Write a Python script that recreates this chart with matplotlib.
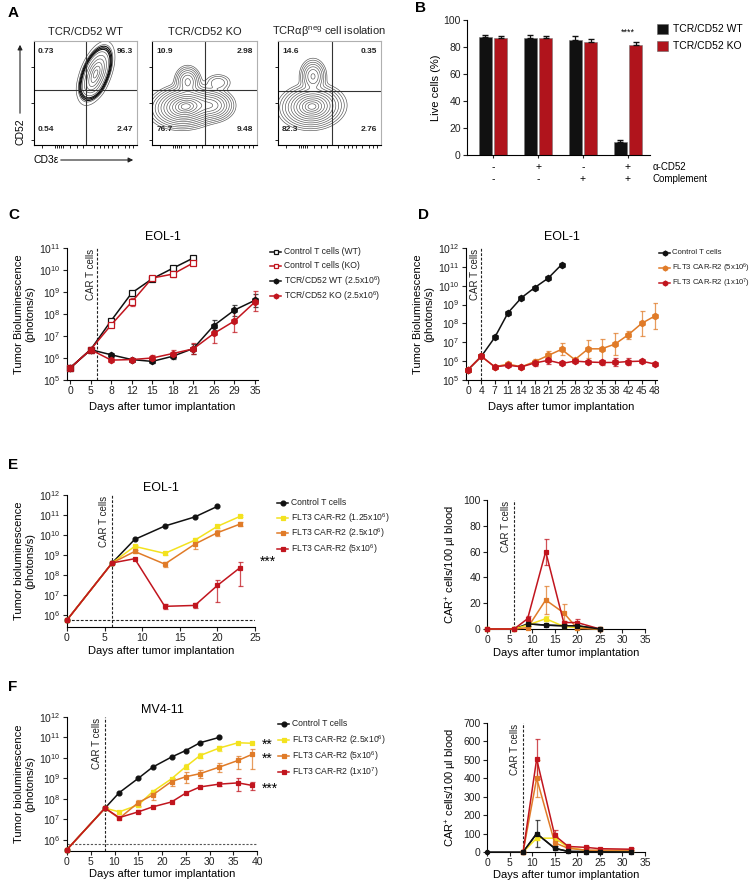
import numpy as np
import matplotlib.pyplot as plt
from matplotlib.lines import Line2D

plt.rcParams['font.family'] = ['Liberation Sans', 'DejaVu Sans']
plt.rcParams['font.size'] = 7.5
plt.rcParams['mathtext.default'] = 'regular'
plt.rcParams['axes.linewidth'] = 0.8
plt.rcParams['xtick.major.width'] = 0.8
plt.rcParams['ytick.major.width'] = 0.8
plt.rcParams['xtick.major.size'] = 3
plt.rcParams['ytick.major.size'] = 3
plt.rcParams['xtick.major.pad'] = 1.5
plt.rcParams['ytick.major.pad'] = 1.5

BLACK = '#111111'
RED = '#C1151E'
ORANGE = '#E07B28'
YELLOW = '#F3E21F'
nan = np.nan

# ---------------- data ----------------
# A: flow plots
flow_titles = ['TCR/CD52 WT', 'TCR/CD52 KO', 'TCRαβ$^{neg}$ cell isolation']
quad_pct = [['0.73', '96.3', '0.54', '2.47'],
            ['10.9', '2.98', '76.7', '9.48'],
            ['14.6', '0.35', '82.3', '2.76']]
gate_x = [0.50, 0.50, 0.52]
gate_y = [0.53, 0.53, 0.52]
# populations: cx, cy, sx, sy, rho, weight
pops_wt = [(0.60, 0.69, 0.06, 0.10, 0.5, 1.0), (0.56, 0.57, 0.05, 0.05, 0.2, 0.15)]
pops_ko = [(0.32, 0.37, 0.12, 0.075, 0.1, 1.0), (0.58, 0.38, 0.08, 0.06, 0.0, 0.35),
           (0.34, 0.61, 0.05, 0.06, 0.0, 0.25), (0.63, 0.60, 0.06, 0.04, 0.0, 0.05)]
pops_iso = [(0.33, 0.37, 0.11, 0.075, 0.05, 1.0), (0.34, 0.66, 0.05, 0.065, 0.0, 0.3)]

# B: complement assay
anti_cd52 = ['-', '+', '-', '+']
complement = ['-', '-', '+', '+']
live_wt = [87.5, 87, 85, 9.5]
live_wt_err = [1.5, 2, 3, 1.5]
live_ko = [87, 86.5, 84, 81.5]
live_ko_err = [1.5, 1.5, 2, 2]

# C: EOL-1, TCR/CD52 KO
c_days = [0, 5, 8, 12, 15, 18, 21, 26, 29, 35]
c_ctrl_wt = [3.5e5, 2.4e6, 5e7, 9e8, 4e9, 1.2e10, 3.5e10]
c_ctrl_ko = [3.5e5, 2.4e6, 3.2e7, 3.5e8, 4.3e9, 6.5e9, 2.1e10]
c_ctrl_ko_lo = [nan, nan, nan, 2.2e8, nan, 5e9, nan]
c_ctrl_ko_hi = [nan, nan, nan, 5.5e8, nan, 8e9, nan]
c_car_wt = [3.5e5, 2.4e6, 1.4e6, 8.5e5, 7e5, 1.2e6, 2.7e6, 3e7, 1.5e8, 4.2e8]
c_car_wt_lo = [nan, nan, nan, 7e5, 5.8e5, 9e5, 1.6e6, 1.8e7, 8e7, 2e8]
c_car_wt_hi = [nan, nan, nan, 1e6, 8.5e5, 1.6e6, 4.5e6, 5.5e7, 2.7e8, 8e8]
c_car_ko = [3.5e5, 2.4e6, 8e5, 8.5e5, 1e6, 1.6e6, 2.6e6, 1.3e7, 4.8e7, 3.5e8]
c_car_ko_lo = [nan, nan, nan, nan, 8e5, 1.1e6, 1.6e6, 5e6, 1.5e7, 1.3e8]
c_car_ko_hi = [nan, nan, nan, nan, 1.3e6, 2.4e6, 4.8e6, 3.5e7, 1.5e8, 1.1e9]

# D: EOL-1, FLT3 CAR-R2
d_days = [0, 4, 7, 11, 14, 18, 21, 25, 28, 32, 35, 38, 42, 45, 48]
d_ctrl = [3.5e5, 1.8e6, 1.8e7, 3.7e8, 2.3e9, 8e9, 2.5e10, 1.3e11]
d_mid = [3.5e5, 1.8e6, 5e5, 7e5, 5e5, 9.5e5, 2e6, 4.2e6, 1.2e6, 4.5e6, 4.5e6, 8e6, 2.5e7, 1e8, 2.5e8]
d_mid_lo = [nan, nan, nan, 5.5e5, nan, 7e5, 1.2e6, 2e6, nan, 1.5e6, 1e6, 2e6, 1.5e7, 2.2e7, 5e7]
d_mid_hi = [nan, nan, nan, 8.5e5, nan, 1.3e6, 3.5e6, 9e6, nan, 1.3e7, 1.5e7, 3.2e7, 4e7, 4.8e8, 1.2e9]
d_high = [3.5e5, 1.8e6, 5e5, 6e5, 5e5, 8e5, 1.1e6, 7.5e5, 1e6, 9e5, 8.5e5, 8.5e5, 9.5e5, 1e6, 7e5]
d_high_lo = [nan, nan, nan, nan, nan, 5.5e5, 7e5, nan, nan, nan, 6e5, 5.5e5, 6e5, 8e5, nan]
d_high_hi = [nan, nan, nan, nan, nan, 1.2e6, 1.6e6, nan, nan, nan, 1.2e6, 1.4e6, 1.5e6, 1.2e6, nan]

# E: EOL-1 dose titration
e_days_ctrl = [0, 6, 9, 13, 17, 20]
e_ctrl = [5.6e5, 4e8, 6e9, 2.8e10, 8e10, 2.7e11]
e_days = [0, 6, 9, 13, 17, 20, 23]
e_low = [5.6e5, 4e8, 2.7e9, 1.2e9, 5.5e9, 2.7e10, 8.5e10]
e_low_lo = [nan, nan, 2.2e9, 1e9, 4.5e9, 2.3e10, 7.5e10]
e_low_hi = [nan, nan, 3.2e9, 1.4e9, 6.8e9, 3.1e10, 9.5e10]
e_mid = [5.6e5, 4e8, 1.5e9, 3.5e8, 3.5e9, 1.3e10, 3.5e10]
e_mid_lo = [nan, nan, 1.2e9, 2.6e8, 2e9, 9e9, 2.7e10]
e_mid_hi = [nan, nan, 1.8e9, 4.5e8, 5e9, 1.8e10, 4.5e10]
e_high = [5.6e5, 4e8, 6.5e8, 2.7e6, 3e6, 3e7, 2.3e8]
e_high_lo = [nan, nan, nan, 2e6, 2.2e6, 4.5e6, 2.8e7]
e_high_hi = [nan, nan, nan, 3.4e6, 4.2e6, 5.5e7, 4.5e8]
e_blood_days = [0, 6, 9, 13, 17, 20, 25]
e_blood_ctrl = [0, 0, 4, 3, 2.5, 2.5, 0]
e_blood_ctrl_err = [nan, nan, 2, 1, nan, nan, nan]
e_blood_low = [0, 0, 3, 8, 2, 1, 0]
e_blood_low_err = [nan, nan, 1, 2, 1, nan, nan]
e_blood_mid = [0, 0, 1, 22.5, 12.5, 0.5, 0]
e_blood_mid_err = [nan, nan, 1, 10.5, 7, nan, nan]
e_blood_high = [0, 0, 8, 60, 5, 5, 0]
e_blood_high_err = [nan, nan, 2, 10, 1.5, 3, nan]

# F: MV4-11
f_days_ctrl = [0, 8, 11, 15, 18, 22, 25, 28, 32]
f_ctrl = [3.3e5, 3.5e7, 2e8, 1e9, 3.5e9, 1.1e10, 2.3e10, 5.5e10, 1e11]
f_days = [0, 8, 11, 15, 18, 22, 25, 28, 32, 36, 39]
f_low = [3.3e5, 3.5e7, 2.3e7, 5e7, 2.2e8, 9.5e8, 3.7e9, 1.3e10, 3e10, 5.5e10, 5.2e10]
f_low_lo = [nan, nan, nan, 4e7, 1.8e8, 8e8, 2.8e9, 1e10, 2.3e10, nan, nan]
f_low_hi = [nan, nan, nan, 6e7, 2.7e8, 1.1e9, 4.8e9, 1.7e10, 3.8e10, nan, nan]
f_mid = [3.3e5, 3.5e7, 1.1e7, 6.5e7, 1.5e8, 7e8, 1.2e9, 1.7e9, 3.5e9, 7.5e9, 1.5e10]
f_mid_lo = [nan, nan, nan, 4.5e7, 9e7, 4e8, 6e8, 1e9, 2e9, 3e9, 3e9]
f_mid_hi = [nan, nan, nan, 9e7, 2.5e8, 1.1e9, 2e9, 2.5e9, 5.5e9, 1.3e10, 2.8e10]
f_high = [3.3e5, 3.5e7, 1.2e7, 2.3e7, 4e7, 7e7, 1.9e8, 3.8e8, 5.2e8, 6e8, 4.5e8]
f_high_lo = [nan, nan, nan, 2e7, nan, nan, nan, nan, 4e8, 2.5e8, 2.8e8]
f_high_hi = [nan, nan, nan, 2.7e7, nan, nan, nan, nan, 6.5e8, 1e9, 6.5e8]
f_blood_days_ctrl = [0, 8, 11, 15, 18, 22, 25, 32]
f_blood_ctrl = [0, 0, 100, 20, 3, 2, 1, 0]
f_blood_ctrl_err = [nan, nan, 72, 10, nan, nan, nan, nan]
f_blood_days = [8, 11, 15, 18, 22, 25, 32]
f_blood_low = [0, 75, 75, 25, 8, 5, 8]
f_blood_low_err = [nan, 10, 10, 5, nan, nan, nan]
f_blood_mid = [0, 400, 50, 20, 10, 10, 10]
f_blood_mid_err = [nan, 100, 30, 5, nan, nan, nan]
f_blood_high = [0, 505, 90, 30, 25, 18, 15]
f_blood_high_err = [nan, 110, 30, 5, 5, nan, 5]

# ---------------- helpers ----------------
W, H = 755, 881
fig = plt.figure(figsize=(W / 100, H / 100), dpi=100)


def box(l, t, r, b):
    return [l / W, 1 - b / H, (r - l) / W, (b - t) / H]


def ftext(x, y, s, **kw):
    fig.text(x / W, 1 - y / H, s, **kw)


def clean(ax):
    ax.spines['top'].set_visible(False)
    ax.spines['right'].set_visible(False)
    ax.tick_params(direction='out', labelsize=7.5, colors='#222222')


def log_axis(ax, lo_exp, hi_exp, ylim):
    ax.set_yscale('log')
    ax.set_ylim(*ylim)
    ticks = [10.0 ** k for k in range(lo_exp, hi_exp + 1)]
    ax.set_yticks(ticks)
    ax.set_yticklabels(['$10^{%d}$' % k for k in range(lo_exp, hi_exp + 1)])
    ax.yaxis.set_minor_locator(plt.NullLocator())


def series(ax, x, y, color, marker, lo=None, hi=None, err=None, mfc=None, ms=3.5):
    x = np.asarray(x, float)
    y = np.asarray(y, float)
    ax.plot(x, y, color=color, marker=marker, ms=ms, mfc=mfc or color, mec=color,
            lw=1.1, mew=0.9, clip_on=False, zorder=3)
    if lo is not None:
        yerr = [y - np.asarray(lo, float), np.asarray(hi, float) - y]
    elif err is not None:
        yerr = np.asarray(err, float)
    else:
        return
    ax.errorbar(x, y, yerr=yerr, fmt='none', ecolor=color, elinewidth=0.9,
                capsize=1.8, capthick=0.9, alpha=0.75, zorder=2)


def legend_rows(x, ys, entries, fs=6.2, gap=14):
    for y, (label, color, marker, mfc) in zip(ys, entries):
        yy = 1 - y / H
        fig.add_artist(Line2D([x / W, (x + 5.5) / W, (x + 11) / W], [yy] * 3,
                              transform=fig.transFigure, color=color, lw=1.1,
                              marker=marker, markevery=[1], ms=3.5,
                              mfc=mfc or color, mec=color, mew=0.9))
        ftext(x + gap, y, label, va='center', fontsize=fs, color='#222222')


def car_label(ax, xline, frac_top=0.99):
    ax.text(xline, frac_top, 'CAR T cells', rotation=90, ha='right', va='top',
            fontsize=7, color='#222222',
            transform=ax.get_xaxis_transform())


dash = dict(color='#222222', lw=0.8, ls=(0, (2.5, 1.5)))

# ---------------- A ----------------
gx, gy = np.meshgrid(np.linspace(0, 1, 240), np.linspace(0, 1, 240))


def density(pops):
    z = np.zeros_like(gx)
    for cx, cy, sx, sy, rho, w in pops:
        dx = (gx - cx) / sx
        dy = (gy - cy) / sy
        z += w * np.exp(-(dx * dx - 2 * rho * dx * dy + dy * dy) / (2 * (1 - rho ** 2)))
    return z


flow_boxes = [(34, 41, 137, 145), (152, 41, 257, 145), (278, 41, 381, 145)]
flow_pops = [pops_wt, pops_ko, pops_iso]
flow_nlev = [9, 13, 12]
for i in range(3):
    ax = fig.add_axes(box(*flow_boxes[i]))
    z = density(flow_pops[i])
    radii = np.linspace(0.35, 3.1, flow_nlev[i])
    levels = np.sort(z.max() * np.exp(-radii ** 2 / 2))
    ax.contour(gx, gy, z, levels=levels, colors='#505050', linewidths=0.45)
    if i == 0:
        rim = np.sort(z.max() * np.exp(-np.array([2.3, 2.45, 2.6]) ** 2 / 2))
        ax.contour(gx, gy, z, levels=rim, colors='#111111', linewidths=0.8)
    ax.axvline(gate_x[i], color='#333333', lw=0.8)
    ax.axhline(gate_y[i], color='#333333', lw=0.8)
    ax.set_xlim(0, 1)
    ax.set_ylim(0, 1)
    for s in ['top', 'right']:
        ax.spines[s].set_color('#b0b0b0')
    ax.set_xticks([0.08, 0.2, 0.22, 0.24, 0.26, 0.28, 0.35, 0.42, 0.48, 0.58, 0.64,
                   0.68, 0.72, 0.76, 0.82, 0.88, 0.92, 0.96])
    ax.set_yticks([0.05, 0.4, 0.75])
    ax.tick_params(length=2, width=0.6, labelbottom=False, labelleft=False)
    tl, tr, bl, br = quad_pct[i]
    kw = dict(fontsize=6, fontweight='bold', transform=ax.transAxes, color='#222222')
    ax.text(0.04, 0.93, tl, ha='left', va='top', **kw)
    ax.text(0.96, 0.93, tr, ha='right', va='top', **kw)
    ax.text(0.04, 0.12, bl, ha='left', va='bottom', **kw)
    ax.text(0.96, 0.12, br, ha='right', va='bottom', **kw)
    ax.set_title(flow_titles[i], fontsize=8, pad=4, color='#222222')

ftext(20, 132, 'CD52', rotation=90, ha='center', va='center', fontsize=7.5)
fig.add_artist(plt.Annotation('', xy=(20 / W, 1 - 42 / H), xytext=(20 / W, 1 - 116 / H),
                              xycoords='figure fraction',
                              arrowprops=dict(arrowstyle='-|>', lw=0.8, color='#222222',
                                              mutation_scale=7)))
ftext(34, 160, 'CD3ε', ha='left', va='center', fontsize=7.5)
fig.add_artist(plt.Annotation('', xy=(136 / W, 1 - 160 / H), xytext=(58 / W, 1 - 160 / H),
                              xycoords='figure fraction',
                              arrowprops=dict(arrowstyle='-|>', lw=0.8, color='#222222',
                                              mutation_scale=7)))

# ---------------- B ----------------
ax = fig.add_axes(box(467, 20, 650, 155))
clean(ax)
xb = np.arange(len(live_wt))
ax.bar(xb - 0.175, live_wt, 0.29, color=BLACK, edgecolor='#777777', lw=0.4)
ax.bar(xb + 0.175, live_ko, 0.29, color='#B0141C', edgecolor='#777777', lw=0.4)
ax.errorbar(xb - 0.175, live_wt, yerr=[np.zeros(4), live_wt_err], fmt='none',
            ecolor=BLACK, elinewidth=0.9, capsize=2.5)
ax.errorbar(xb + 0.175, live_ko, yerr=[np.zeros(4), live_ko_err], fmt='none',
            ecolor=BLACK, elinewidth=0.9, capsize=2.5)
ax.set_xlim(-0.58, 3.49)
ax.set_ylim(0, 100)
ax.set_yticks(range(0, 101, 20))
ax.set_xticks(xb)
ax.tick_params(axis='x', labelbottom=False, length=2)
ax.set_ylabel('Live cells (%)', fontsize=8, labelpad=2)
ax.text(3, 91, '****', ha='center', va='center', fontsize=6.5)
for i in range(4):
    ax.text(i, -9, anti_cd52[i], ha='center', va='center', fontsize=7.5, clip_on=False)
    ax.text(i, -18, complement[i], ha='center', va='center', fontsize=7.5, clip_on=False)
ax.text(3.55, -9, 'α-CD52', ha='left', va='center', fontsize=7, clip_on=False)
ax.text(3.55, -18, 'Complement', ha='left', va='center', fontsize=7, clip_on=False)
for y, lab, col in [(29, 'TCR/CD52 WT', BLACK), (46, 'TCR/CD52 KO', '#B0141C')]:
    fig.add_artist(plt.Rectangle((657 / W, 1 - (y + 5) / H), 11 / W, 10 / H,
                                 transform=fig.transFigure, color=col, ec='#666666', lw=0.4))
    ftext(673, y, lab, va='center', fontsize=7.5)

# ---------------- C ----------------
ax = fig.add_axes(box(67, 248, 258, 380))
clean(ax)
xc = np.arange(len(c_days))
n7 = len(c_ctrl_wt)
series(ax, xc[:n7], c_ctrl_wt, BLACK, 's', mfc='white', ms=4)
series(ax, xc[:n7], c_ctrl_ko, RED, 's', c_ctrl_ko_lo, c_ctrl_ko_hi, mfc='white', ms=4)
series(ax, xc, c_car_wt, BLACK, 'h', c_car_wt_lo, c_car_wt_hi, ms=4.5)
series(ax, xc, c_car_ko, RED, 'h', c_car_ko_lo, c_car_ko_hi, ms=4.5)
log_axis(ax, 5, 11, (1e5, 1e11))
ax.set_xlim(-0.15, 9.15)
ax.set_xticks(xc)
ax.set_xticklabels(c_days)
ax.axvline(4 / 3, **dash)
car_label(ax, 4 / 3 - 0.08)
ax.set_title('EOL-1', fontsize=9, pad=6)
ax.set_xlabel('Days after tumor implantation', fontsize=8, labelpad=4)
ax.set_ylabel('Tumor Bioluminescence\n(photons/s)', fontsize=8, labelpad=3)
legend_rows(270, [252, 266, 281, 296],
            [('Control T cells (WT)', BLACK, 's', 'white'),
             ('Control T cells (KO)', RED, 's', 'white'),
             ('TCR/CD52 WT (2.5x10$^6$)', BLACK, 'h', None),
             ('TCR/CD52 KO (2.5x10$^6$)', RED, 'h', None)])

# ---------------- D ----------------
ax = fig.add_axes(box(466, 248, 657, 380))
clean(ax)
xd = np.arange(len(d_days))
series(ax, xd[:len(d_ctrl)], d_ctrl, BLACK, 'h', ms=4.5)
series(ax, xd, d_mid, ORANGE, 'h', d_mid_lo, d_mid_hi, ms=4.5)
series(ax, xd, d_high, RED, 'h', d_high_lo, d_high_hi, ms=4.5)
log_axis(ax, 5, 12, (1e5, 1e12))
ax.set_xlim(-0.15, 14.15)
ax.set_xticks(xd)
ax.set_xticklabels(d_days)
ax.axvline(1, **dash)
car_label(ax, 0.9)
ax.set_title('EOL-1', fontsize=9, pad=6)
ax.set_xlabel('Days after tumor implantation', fontsize=8, labelpad=4)
ax.set_ylabel('Tumor Bioluminescence\n(photons/s)', fontsize=8, labelpad=3)
legend_rows(659, [253, 268, 283],
            [('Control T cells', BLACK, 'h', None),
             ('FLT3 CAR-R2 (5x10$^6$)', ORANGE, 'h', None),
             ('FLT3 CAR-R2 (1x10$^7$)', RED, 'h', None)], fs=5.6, gap=13)

# ---------------- E ----------------
ax = fig.add_axes(box(67, 495, 255, 627))
clean(ax)
series(ax, e_days_ctrl, e_ctrl, BLACK, 'o', ms=3.5)
series(ax, e_days, e_low, YELLOW, 's', e_low_lo, e_low_hi, ms=3)
series(ax, e_days, e_mid, ORANGE, 's', e_mid_lo, e_mid_hi, ms=3)
series(ax, e_days, e_high, RED, 's', e_high_lo, e_high_hi, ms=3)
log_axis(ax, 6, 12, (2.5e5, 1e12))
ax.set_xlim(0, 25)
ax.set_xticks(range(0, 26, 5))
ax.axvline(6, **dash)
ax.axhline(5.6e5, **dash)
car_label(ax, 5.6)
ax.set_title('EOL-1', fontsize=9, pad=3)
ax.set_xlabel('Days after tumor implantation', fontsize=8, labelpad=2)
ax.set_ylabel('Tumor bioluminescence\n(photons/s)', fontsize=8, labelpad=3)
ftext(260, 562, '***', ha='left', va='center', fontsize=10)
legend_rows(277, [503, 518, 533, 549],
            [('Control T cells', BLACK, 'o', None),
             ('FLT3 CAR-R2 (1.25x10$^6$)', YELLOW, 's', None),
             ('FLT3 CAR-R2 (2.5x10$^6$)', ORANGE, 's', None),
             ('FLT3 CAR-R2 (5x10$^6$)', RED, 's', None)])

ax = fig.add_axes(box(487, 500, 645, 629))
clean(ax)
series(ax, e_blood_days, e_blood_ctrl, BLACK, 'o', err=e_blood_ctrl_err, ms=3)
series(ax, e_blood_days, e_blood_low, YELLOW, 's', err=e_blood_low_err, ms=3)
series(ax, e_blood_days, e_blood_mid, ORANGE, 's', err=e_blood_mid_err, ms=3)
series(ax, e_blood_days, e_blood_high, RED, 's', err=e_blood_high_err, ms=3)
series(ax, e_blood_days[2:], e_blood_ctrl[2:], BLACK, 's', ms=3)
ax.set_xlim(0, 35)
ax.set_ylim(0, 100)
ax.set_xticks(range(0, 36, 5))
ax.set_yticks(range(0, 101, 20))
ax.axvline(6, **dash)
car_label(ax, 5.4)
ax.set_xlabel('Days after tumor implantation', fontsize=8, labelpad=2)
ax.set_ylabel('CAR$^{+}$ cells/100 µl blood', fontsize=8, labelpad=3)

# ---------------- F ----------------
ax = fig.add_axes(box(67, 717, 257, 851))
clean(ax)
series(ax, f_days_ctrl, f_ctrl, BLACK, 'o', ms=3.5)
series(ax, f_days, f_low, YELLOW, 's', f_low_lo, f_low_hi, ms=3)
series(ax, f_days, f_mid, ORANGE, 's', f_mid_lo, f_mid_hi, ms=3)
series(ax, f_days, f_high, RED, 's', f_high_lo, f_high_hi, ms=3)
log_axis(ax, 6, 12, (2.8e5, 1e12))
ax.set_xlim(0, 40)
ax.set_xticks(range(0, 41, 5))
ax.axvline(8, **dash)
ax.axhline(6.3e5, color='#555555', lw=0.8, ls=(0, (2, 1.5)))
car_label(ax, 7.4)
ax.set_title('MV4-11', fontsize=9, pad=3)
ax.set_xlabel('Days after tumor implantation', fontsize=8, labelpad=1)
ax.set_ylabel('Tumor bioluminescence\n(photons/s)', fontsize=8, labelpad=3)
ftext(262, 745, '**', ha='left', va='center', fontsize=10)
ftext(262, 759, '**', ha='left', va='center', fontsize=10)
ftext(262, 789, '***', ha='left', va='center', fontsize=10)
legend_rows(278, [724, 740, 756, 772],
            [('Control T cells', BLACK, 'o', None),
             ('FLT3 CAR-R2 (2.5x10$^6$)', YELLOW, 's', None),
             ('FLT3 CAR-R2 (5x10$^6$)', ORANGE, 's', None),
             ('FLT3 CAR-R2 (1x10$^7$)', RED, 's', None)])

ax = fig.add_axes(box(487, 723, 645, 852))
clean(ax)
series(ax, f_blood_days_ctrl, f_blood_ctrl, BLACK, 'o', err=f_blood_ctrl_err, ms=3)
series(ax, f_blood_days, f_blood_low, YELLOW, 's', err=f_blood_low_err, ms=3)
series(ax, f_blood_days, f_blood_mid, ORANGE, 's', err=f_blood_mid_err, ms=3)
series(ax, f_blood_days, f_blood_high, RED, 's', err=f_blood_high_err, ms=3)
series(ax, f_blood_days_ctrl[1:], f_blood_ctrl[1:], BLACK, 's', ms=3)
ax.set_xlim(0, 35)
ax.set_ylim(0, 700)
ax.set_xticks(range(0, 36, 5))
ax.set_yticks(range(0, 701, 100))
ax.axvline(8, **dash)
car_label(ax, 7.4)
ax.set_xlabel('Days after tumor implantation', fontsize=8, labelpad=1)
ax.set_ylabel('CAR$^{+}$ cells/100 µl blood', fontsize=8, labelpad=3)

# panel letters
for lx, ly, let in [(8, 13, 'A'), (415, 8, 'B'), (8, 215, 'C'), (418, 215, 'D'),
                    (8, 465, 'E'), (8, 687, 'F')]:
    ftext(lx, ly, let, fontsize=11, fontweight='bold', ha='left', va='center')

fig.savefig('out.png', dpi=100)
